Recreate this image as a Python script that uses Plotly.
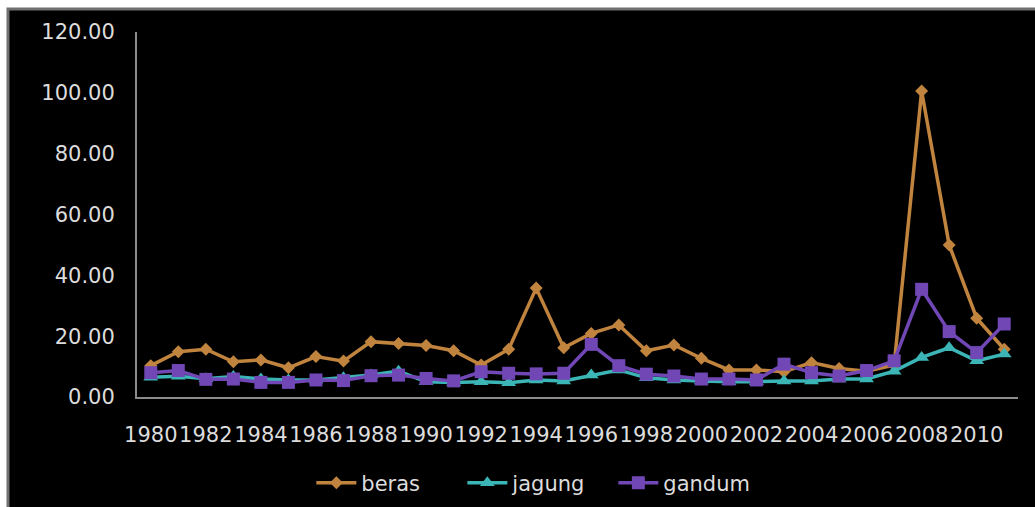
import plotly.graph_objects as go

years = [str(y) for y in range(1980, 2012)]

beras = [10.3, 14.9, 15.7, 11.6, 12.2, 9.6, 13.3, 11.8, 18.2, 17.6,
         16.9, 15.2, 10.5, 15.7, 35.8, 16.2, 20.9, 23.7, 15.2, 17.1,
         12.7, 8.9, 8.9, 8.3, 11.3, 9.4, 8.5, 10.5, 100.6, 50.0,
         25.9, 15.7]
jagung = [6.5, 6.8, 6.0, 6.7, 5.9, 5.6, 5.6, 6.3, 7.2, 8.5,
          5.0, 4.8, 5.0, 4.7, 5.6, 5.3, 7.2, 8.9, 6.3, 5.6,
          5.3, 5.0, 5.0, 5.3, 5.3, 5.9, 5.9, 8.5, 13.0, 16.2,
          11.9, 14.1]
gandum = [8.0, 8.7, 5.8, 5.9, 4.8, 4.8, 5.6, 5.4, 7.0, 7.2,
          6.1, 5.3, 8.3, 7.8, 7.6, 7.8, 17.3, 10.3, 7.5, 6.9,
          5.9, 5.9, 5.6, 10.8, 8.0, 6.9, 8.7, 11.9, 35.4, 21.5,
          14.6, 24.0]

x_ticks = years[::2]
y_ticks = [0, 20, 40, 60, 80, 100, 120]

FONT = "DejaVu Sans"
TEXT = "#dcdcdc"

fig = go.Figure()
fig.add_trace(go.Scatter(
    x=years, y=beras, name="beras", mode="lines+markers",
    line=dict(color="#c0843f", width=3.5),
    marker=dict(symbol="diamond", size=10, color="#c0843f")))
fig.add_trace(go.Scatter(
    x=years, y=jagung, name="jagung", mode="lines+markers",
    line=dict(color="#3bb5b5", width=3.5),
    marker=dict(symbol="triangle-up", size=13, color="#3bb5b5")))
fig.add_trace(go.Scatter(
    x=years, y=gandum, name="gandum", mode="lines+markers",
    line=dict(color="#7047b5", width=3.5),
    marker=dict(symbol="square", size=13, color="#7047b5")))

L, R, T, B = 137, 17, 32, 110
W, H = 1035, 507
pw, ph = W - L - R, H - T - B

# black chart area with a thin grey frame, white page around it
fig.add_shape(type="rect", xref="paper", yref="paper", layer="below",
              x0=(8 - L) / pw, x1=(W + 10 - L) / pw,
              y0=-(H + 10 - T - ph) / ph, y1=(H - B - 9) / ph,
              fillcolor="black", line=dict(color="#707070", width=3))

fig.update_layout(
    width=W, height=H,
    margin=dict(l=L, r=R, t=T, b=B, autoexpand=False),
    paper_bgcolor="white",
    plot_bgcolor="rgba(0,0,0,0)",
    font=dict(family=FONT, size=21, color=TEXT),
    showlegend=True,
    legend=dict(orientation="h", x=0.455, xanchor="center",
                yref="container", y=1 - 483 / H, yanchor="middle",
                font=dict(family=FONT, size=21, color=TEXT),
                bgcolor="rgba(0,0,0,0)", itemwidth=40,
                entrywidth=96, entrywidthmode="pixels"),
    xaxis=dict(type="category", range=[-0.5, 31.5], automargin=False,
               tickmode="array", tickvals=x_ticks, ticktext=x_ticks,
               tickangle=0, showgrid=False, zeroline=False,
               showline=True, linecolor="#8c8c8c", linewidth=2,
               ticks="", ticklabelstandoff=18),
    yaxis=dict(range=[0, 120], tickmode="array", tickvals=y_ticks,
               automargin=False,
               tickformat=".2f", showgrid=False, zeroline=False,
               showline=True, linecolor="#8c8c8c", linewidth=2,
               ticks="", ticklabelstandoff=16),
)

fig.write_html("out.html")
